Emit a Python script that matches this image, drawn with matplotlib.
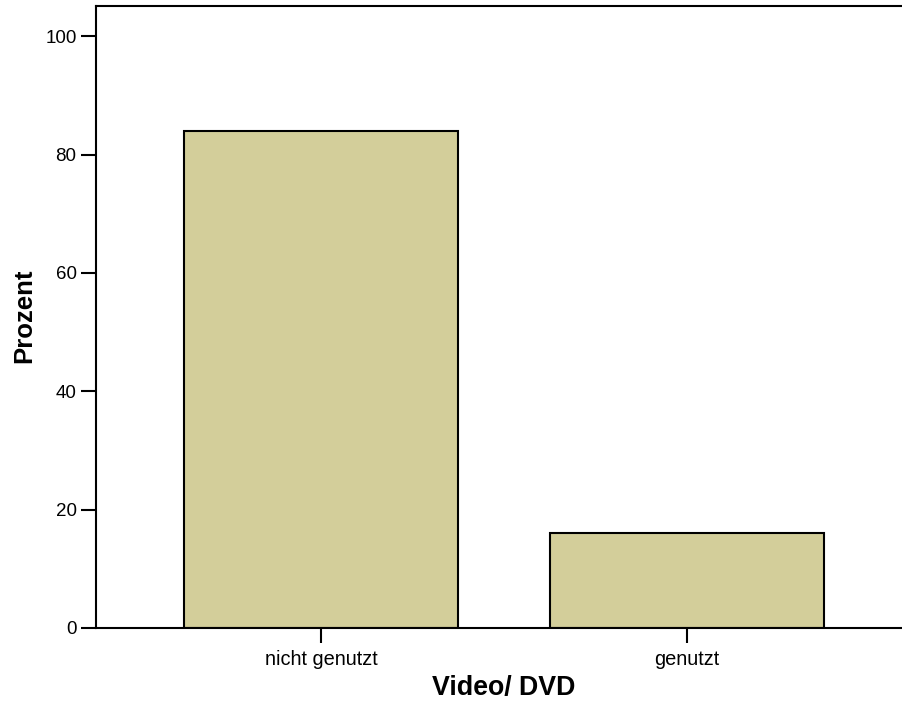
import matplotlib
matplotlib.use("Agg")
import matplotlib.pyplot as plt

categories = ["nicht genutzt", "genutzt"]
values = [83.9, 16.1]
yticks = [0, 20, 40, 60, 80, 100]

plt.rcParams['font.family'] = ['Liberation Sans', 'DejaVu Sans']

W, H = 903, 703
fig = plt.figure(figsize=(W/100, H/100), dpi=100)
l, b, t, r = 96/W, (H-628)/H, (H-6)/H, 912/W
ax = fig.add_axes([l, b, r-l, t-b])

x = list(range(len(categories)))
ax.bar(x, values, width=0.75, color="#D3CE9A", edgecolor="black", linewidth=1.5, zorder=2)

ax.set_xlim(-0.615, 1.615)
ax.set_ylim(0, 105.1)
ax.set_xticks(x)
ax.set_xticklabels(categories, fontsize=14.4)
ax.set_yticks(yticks)
ax.set_yticklabels([str(v) for v in yticks], fontsize=13.5)
ax.tick_params(axis='both', length=11, width=1.5, direction='out')
ax.tick_params(axis='y', pad=3)
ax.tick_params(axis='x', pad=5)
for s in ax.spines.values():
    s.set_linewidth(1.5)

fig.text(504/W, 1-688/H, "Video/ DVD", fontsize=19.3, fontweight='bold',
         ha='center', va='center')
fig.text(24/W, 1-316/H, "Prozent", fontsize=18.5, fontweight='bold',
         ha='center', va='center', rotation=90)

fig.savefig("out.png", dpi=100)
